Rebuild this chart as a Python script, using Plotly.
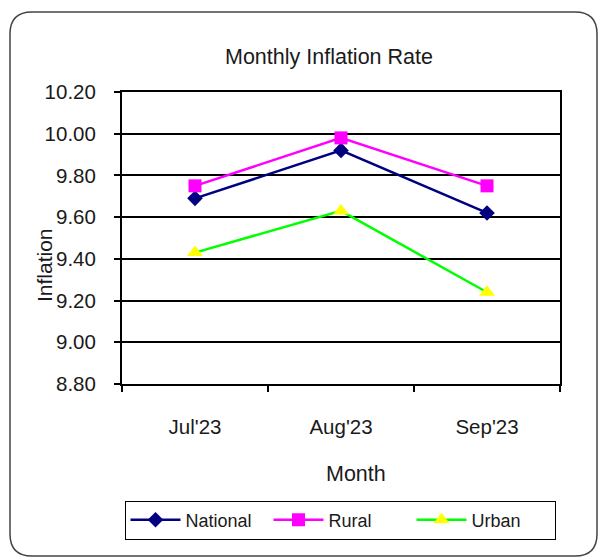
import plotly.graph_objects as go

months = ["Jul'23", "Aug'23", "Sep'23"]
national = [9.69, 9.92, 9.62]
rural = [9.75, 9.98, 9.75]
urban = [9.43, 9.63, 9.24]
y_ticks = [8.8, 9.0, 9.2, 9.4, 9.6, 9.8, 10.0, 10.2]

W, H = 598, 557
PL, PR, PT, PB = 122, 560, 92, 384  # plot area in page px
ML, MT = PL, PT
MR, MB = W - PR, H - PB
PW, PH = PR - PL, PB - PT

FONT = "Liberation Sans, Arial, sans-serif"

fig = go.Figure()
fig.add_trace(go.Scatter(x=months, y=national, name="National", mode="lines+markers",
                         line=dict(color="#000080", width=2.5),
                         marker=dict(symbol="diamond", size=12, color="#000080")))
fig.add_trace(go.Scatter(x=months, y=rural, name="Rural", mode="lines+markers",
                         line=dict(color="#FF00FF", width=2.5),
                         marker=dict(symbol="square", size=13, color="#FF00FF")))
fig.add_trace(go.Scatter(x=months, y=urban, name="Urban", mode="lines+markers",
                         line=dict(color="#00FF00", width=2.5),
                         marker=dict(symbol="triangle-up", size=14, color="#FFFF00")))

def px_x(p):
    return (p - PL) / PW

def px_y(p):
    return (PB - p) / PH

# rounded outer frame
x0, x1, y0, y1, r = 10, 597, 12, 556, 22
path = (
    f"M {px_x(x0 + r)},{px_y(y0)} L {px_x(x1 - r)},{px_y(y0)} "
    f"Q {px_x(x1)},{px_y(y0)} {px_x(x1)},{px_y(y0 + r)} "
    f"L {px_x(x1)},{px_y(y1 - r)} Q {px_x(x1)},{px_y(y1)} {px_x(x1 - r)},{px_y(y1)} "
    f"L {px_x(x0 + r)},{px_y(y1)} Q {px_x(x0)},{px_y(y1)} {px_x(x0)},{px_y(y1 - r)} "
    f"L {px_x(x0)},{px_y(y0 + r)} Q {px_x(x0)},{px_y(y0)} {px_x(x0 + r)},{px_y(y0)} Z"
)

TXT = "#1a1a1a"
fig.update_layout(
    width=W, height=H,
    margin=dict(l=ML, r=MR, t=MT, b=MB),
    paper_bgcolor="white", plot_bgcolor="white",
    font=dict(family=FONT, size=20, color=TXT),
    shapes=[dict(type="path", path=path, xref="paper", yref="paper",
                 line=dict(color="#444444", width=1.5), layer="below")],
    annotations=[
        dict(text="Monthly Inflation Rate", x=px_x(329), y=px_y(57), xref="paper", yref="paper",
             showarrow=False, xanchor="center", yanchor="middle", font=dict(size=21.5, color=TXT)),
        dict(text="Month", x=px_x(356), y=px_y(474), xref="paper", yref="paper",
             showarrow=False, xanchor="center", yanchor="middle", font=dict(size=21.5, color=TXT)),
        dict(text="Inflation", x=px_x(44), y=px_y(265), xref="paper", yref="paper", textangle=-90,
             showarrow=False, xanchor="center", yanchor="middle", font=dict(size=21, color=TXT)),
    ],
    legend=dict(orientation="h", x=px_x(340), xanchor="center", y=px_y(520), yanchor="middle",
                bordercolor="black", borderwidth=1, bgcolor="white",
                font=dict(size=18, color=TXT), entrywidth=78, itemwidth=50),
    showlegend=True,
)
fig.update_xaxes(
    range=[-0.5, 2.5], showgrid=False, showline=True, linecolor="black", linewidth=2,
    mirror=True, ticks="outside", tickson="boundaries", ticklen=6, tickwidth=1.5,
    tickcolor="black", ticklabelstandoff=23, tickfont=dict(size=20.5),
)
fig.update_yaxes(
    range=[8.8, 10.2], tickvals=y_ticks, tickformat=".2f",
    showgrid=True, gridcolor="black", gridwidth=2,
    showline=True, linecolor="black", linewidth=2, mirror=True,
    ticks="outside", ticklen=6, tickwidth=1.5, tickcolor="black", ticklabelstandoff=14,
    zeroline=False, tickfont=dict(size=20.5),
)

fig.write_html("out.html", config={"displayModeBar": False},
               post_script="document.body.style.margin='0px';document.body.style.overflow='hidden';")
